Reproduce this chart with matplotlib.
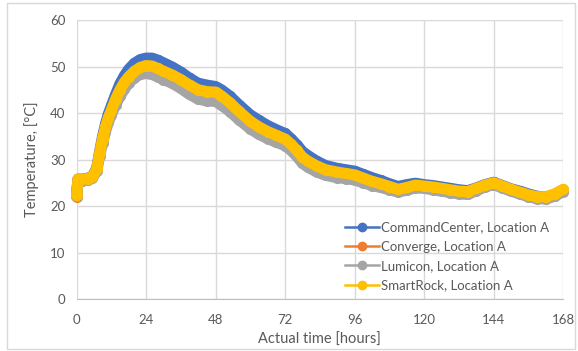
import numpy as np
import matplotlib.pyplot as plt
from matplotlib.lines import Line2D
from matplotlib.patches import Rectangle

# hours since placement
hours = [0, 0.5, 2, 4, 5.5, 7, 8, 9, 10, 11, 12, 13.5, 15, 16.5, 18, 20, 22, 24,
         26, 28, 30, 33, 36, 39, 42, 45, 48, 50, 53, 56, 60, 63, 66, 69, 72, 74,
         76, 78, 80, 83, 86, 90, 93, 96, 99, 102, 105, 108, 111, 114, 117, 120,
         123, 126, 129, 132, 135, 138, 141, 144, 147, 150, 153, 156, 159, 162,
         165, 168]

command_center = [22.3, 25.8, 25.8, 26.0, 26.4, 28.2, 31.8, 35.0, 37.6, 39.8, 41.5,
                  44.0, 46.3, 48.0, 49.4, 50.7, 51.5, 51.8, 51.8, 51.4, 50.8, 49.9,
                  48.8, 47.5, 46.4, 46.0, 45.7, 45.0, 43.6, 41.8, 39.6, 38.4, 37.3,
                  36.4, 35.6, 34.5, 33.2, 31.7, 30.8, 29.6, 28.7, 28.1, 27.8, 27.5,
                  26.8, 26.1, 25.5, 24.8, 24.2, 24.6, 24.9, 24.6, 24.4, 24.1, 23.8,
                  23.5, 23.3, 23.9, 24.6, 25.1, 24.4, 23.7, 23.2, 22.6, 22.1, 21.9,
                  22.4, 23.3]

converge = [22.0, 25.6, 25.7, 25.8, 26.2, 27.9, 31.3, 34.3, 36.8, 38.8, 40.4,
            42.8, 44.8, 46.4, 47.6, 48.8, 49.6, 50.0, 49.9, 49.4, 48.8, 48.0,
            47.0, 45.8, 44.8, 44.4, 44.3, 43.5, 42.0, 40.2, 38.0, 36.8, 35.8,
            35.0, 34.2, 33.1, 31.8, 30.3, 29.4, 28.4, 27.6, 27.1, 26.8, 26.5,
            25.8, 25.1, 24.6, 24.0, 23.4, 23.8, 24.3, 24.1, 23.9, 23.6, 23.3,
            23.0, 22.9, 23.6, 24.3, 24.8, 24.1, 23.4, 22.8, 22.2, 21.8, 21.8,
            22.4, 23.4]

lumicon = [22.1, 25.4, 25.4, 25.6, 26.0, 27.6, 30.8, 33.6, 36.0, 38.0, 39.6,
           41.8, 43.6, 45.1, 46.4, 47.6, 48.3, 48.5, 48.3, 47.8, 47.2, 46.4,
           45.3, 44.0, 43.0, 42.6, 42.5, 41.7, 40.3, 38.6, 36.6, 35.4, 34.5,
           33.7, 33.0, 32.0, 30.7, 29.2, 28.3, 27.3, 26.6, 26.1, 25.9, 25.6,
           25.0, 24.4, 24.0, 23.5, 23.0, 23.4, 23.9, 23.8, 23.5, 23.2, 22.9,
           22.6, 22.5, 23.3, 24.1, 24.6, 23.9, 23.2, 22.6, 22.0, 21.6, 21.5,
           22.1, 23.1]

smart_rock = [22.3, 25.8, 25.8, 25.9, 26.3, 28.0, 31.5, 34.5, 37.0, 39.0, 40.6,
              43.0, 45.0, 46.6, 47.8, 49.0, 49.8, 50.2, 50.1, 49.6, 49.0, 48.2,
              47.2, 46.0, 45.0, 44.6, 44.5, 43.7, 42.2, 40.4, 38.2, 37.0, 36.0,
              35.2, 34.4, 33.3, 32.0, 30.5, 29.6, 28.6, 27.8, 27.3, 27.0, 26.7,
              26.0, 25.3, 24.8, 24.2, 23.6, 24.0, 24.5, 24.3, 24.1, 23.8, 23.5,
              23.2, 23.1, 23.8, 24.5, 25.0, 24.3, 23.6, 23.0, 22.4, 22.0, 22.0,
              22.6, 23.6]

labels = ["CommandCenter, Location A", "Converge, Location A",
          "Lumicon, Location A", "SmartRock, Location A"]
colors = ["#4472C4", "#ED7D31", "#A5A5A5", "#FFC000"]
x_ticks = [0, 24, 48, 72, 96, 120, 144, 168]

plt.rcParams['font.family'] = ['Lato', 'DejaVu Sans']

fig = plt.figure(figsize=(5.78, 3.51), dpi=100)
ax = fig.add_axes([0.1324, 0.148, 0.842, 0.795])

# thick line + same-size markers, like the dense Excel marker band
for vals, c in zip([command_center, converge, lumicon, smart_rock], colors):
    ax.plot(hours, vals, color=c, lw=8, marker='o', ms=8, mew=0,
            solid_capstyle='round', solid_joinstyle='round', clip_on=False)

ax.set_xlim(0, 168)
ax.set_ylim(0, 60)
ax.set_xticks(x_ticks)
ax.set_yticks(range(0, 61, 10))
ax.grid(True, color='#d9d9d9', lw=1)
ax.set_axisbelow(True)
for s in ['top', 'right', 'left']:
    ax.spines[s].set_visible(False)
ax.spines['bottom'].set_color('#bfbfbf')
ax.tick_params(length=0, labelsize=9.5, colors='#595959')
ax.tick_params(axis='x', pad=11)
ax.tick_params(axis='y', pad=8)

ax.set_xlabel("Actual time [hours]", fontsize=10.5, color='#595959', labelpad=5)
ax.set_ylabel("Temperature, [°C]", fontsize=10.5, color='#595959', labelpad=8)

handles = [Line2D([], [], color=c, lw=1.8, marker='o', ms=6) for c in colors]
ax.legend(handles, labels, loc='lower right', bbox_to_anchor=(0.988, 0.0),
          frameon=False, fontsize=9.5, labelcolor='#595959', handlelength=2.6,
          handletextpad=0.15, labelspacing=0.55, borderaxespad=0.2)

fig.patches.append(Rectangle((0.012, 0.006), 0.983, 0.985, transform=fig.transFigure,
                             fill=False, edgecolor='#d9d9d9', lw=1))

fig.savefig("out.png", dpi=100)
